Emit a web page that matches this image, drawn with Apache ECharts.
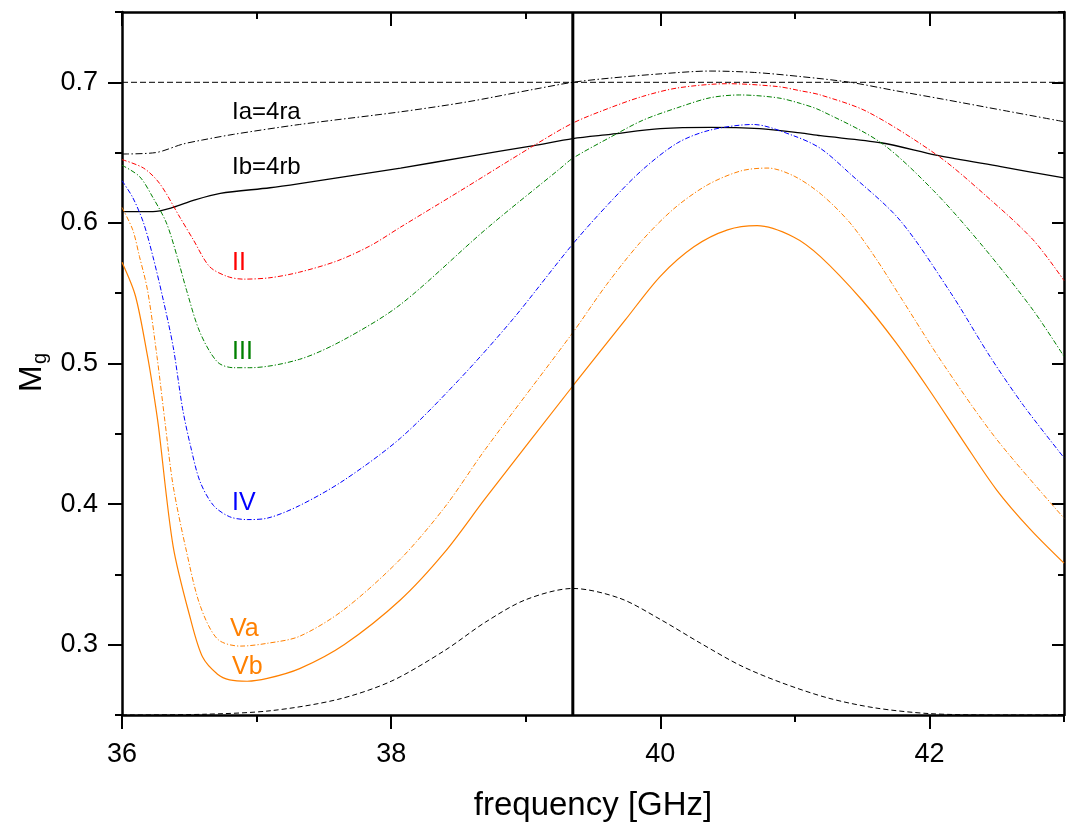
<!DOCTYPE html>
<html>
<head>
<meta charset="utf-8">
<script src="https://cdn.jsdelivr.net/npm/echarts@6/dist/echarts.min.js"></script>
<style>
html,body{margin:0;padding:0;background:#fff;}
#chart{width:1067px;height:827px;}
</style>
</head>
<body>
<div id="chart"></div>
<script>
// ---- data (frequency in GHz, M_g) ----
const freqIa = [36.0, 36.25, 36.45, 36.6, 36.83, 37.32, 38.07, 38.56, 39.06, 39.35, 39.63, 40.0, 40.37, 40.7, 41.05, 41.41, 41.75, 42.1, 42.55, 43.0];
const mIa    = [0.649, 0.650, 0.656, 0.659, 0.663, 0.670, 0.679, 0.686, 0.695, 0.700, 0.703, 0.706, 0.708, 0.707, 0.704, 0.700, 0.694, 0.688, 0.680, 0.672];

const freqIb = [36.0, 36.23, 36.38, 36.53, 36.73, 37.1, 37.32, 38.07, 38.56, 39.06, 39.35, 39.63, 40.0, 40.37, 40.74, 41.04, 41.19, 41.64, 42.06, 42.53, 43.0];
const mIb    = [0.608, 0.608, 0.611, 0.616, 0.621, 0.625, 0.628, 0.639, 0.647, 0.655, 0.660, 0.663, 0.667, 0.668, 0.667, 0.664, 0.662, 0.657, 0.648, 0.640, 0.632];

const freqII = [36.0, 36.16, 36.28, 36.43, 36.53, 36.65, 36.78, 36.9, 37.1, 37.32, 37.6, 37.85, 38.07, 38.5, 39.06, 39.35, 39.63, 39.87, 40.13, 40.5, 40.87, 41.04, 41.19, 41.54, 42.06, 42.4, 42.77, 43.0];
const mII    = [0.645, 0.639, 0.628, 0.604, 0.588, 0.569, 0.562, 0.560, 0.561, 0.565, 0.573, 0.584, 0.597, 0.622, 0.655, 0.671, 0.682, 0.690, 0.696, 0.699, 0.697, 0.694, 0.691, 0.679, 0.648, 0.621, 0.588, 0.559];

const freqIII = [36.0, 36.13, 36.23, 36.33, 36.41, 36.48, 36.58, 36.71, 36.83, 36.95, 37.32, 37.65, 38.07, 38.71, 39.26, 39.35, 39.63, 39.87, 40.13, 40.37, 40.59, 40.87, 41.04, 41.19, 41.64, 42.03, 42.4, 42.77, 43.0];
const mIII    = [0.641, 0.633, 0.618, 0.600, 0.576, 0.552, 0.522, 0.501, 0.497, 0.497, 0.503, 0.517, 0.542, 0.596, 0.639, 0.646, 0.661, 0.673, 0.682, 0.689, 0.691, 0.689, 0.685, 0.680, 0.657, 0.623, 0.583, 0.538, 0.505];

const freqIV = [36.0, 36.08, 36.16, 36.23, 36.30, 36.38, 36.45, 36.51, 36.58, 36.68, 36.80, 36.93, 37.08, 37.32, 37.65, 38.07, 38.5, 38.9, 39.35, 39.63, 39.87, 40.13, 40.37, 40.69, 40.99, 41.19, 41.41, 41.78, 42.16, 42.45, 42.7, 43.0];
const mIV    = [0.630, 0.618, 0.600, 0.576, 0.548, 0.512, 0.468, 0.441, 0.416, 0.399, 0.391, 0.389, 0.390, 0.399, 0.417, 0.447, 0.488, 0.531, 0.585, 0.615, 0.638, 0.657, 0.666, 0.670, 0.662, 0.653, 0.635, 0.602, 0.550, 0.505, 0.470, 0.433];

const freqVa = [36.0, 36.08, 36.13, 36.19, 36.26, 36.32, 36.38, 36.48, 36.58, 36.71, 36.88, 37.08, 37.32, 37.65, 38.07, 38.4, 38.7, 39.35, 39.6, 39.85, 40.1, 40.35, 40.6, 40.8, 41.0, 41.2, 41.41, 41.6, 41.8, 42.1, 42.5, 43.0];
const mVa    = [0.611, 0.595, 0.576, 0.552, 0.505, 0.458, 0.413, 0.366, 0.328, 0.304, 0.299, 0.301, 0.306, 0.325, 0.361, 0.398, 0.439, 0.522, 0.556, 0.586, 0.610, 0.627, 0.637, 0.639, 0.633, 0.620, 0.600, 0.575, 0.545, 0.500, 0.446, 0.390];

const freqVb = [36.0, 36.10, 36.19, 36.23, 36.27, 36.38, 36.51, 36.60, 36.71, 36.80, 36.93, 37.08, 37.32, 37.65, 38.07, 38.4, 38.7, 39.35, 39.74, 40.0, 40.25, 40.5, 40.72, 40.99, 41.19, 41.5, 41.75, 42.0, 42.25, 42.5, 42.75, 43.0];
const mVb    = [0.572, 0.548, 0.505, 0.482, 0.456, 0.370, 0.318, 0.291, 0.279, 0.275, 0.274, 0.276, 0.283, 0.300, 0.332, 0.366, 0.404, 0.484, 0.531, 0.562, 0.583, 0.595, 0.598, 0.590, 0.576, 0.545, 0.515, 0.481, 0.445, 0.410, 0.382, 0.358];

const freqPeak = [36.0, 36.6, 37.1, 37.6, 38.0, 38.4, 38.7, 39.0, 39.35, 39.7, 40.0, 40.3, 40.6, 40.9, 41.25, 41.6, 42.0, 42.5, 43.0];
const mPeak    = [0.250, 0.2505, 0.253, 0.261, 0.274, 0.296, 0.316, 0.332, 0.340, 0.333, 0.318, 0.301, 0.285, 0.273, 0.262, 0.255, 0.251, 0.250, 0.250];

const refLevel = 0.7;       // horizontal dashed reference
const markerFreq = 39.35;   // vertical marker line

const xMajor = [36, 38, 40, 42];
const xMinor = [37, 39, 41, 43];
const yMajor = [0.3, 0.4, 0.5, 0.6, 0.7];
const yMinor = [0.25, 0.35, 0.45, 0.55, 0.65, 0.75];
const X_MIN = 36, X_MAX = 43, Y_MIN = 0.25, Y_MAX = 0.75;

// ---- build ----
const zip = (a, b) => a.map((v, i) => [v, b[i]]);
const FONT = "'Liberation Sans', Arial, Helvetica, sans-serif";
const DASHDOT = [5, 2, 1.2, 2];

function curve(name, fx, my, color, type, width) {
  return {
    name, type: 'line', data: zip(fx, my), showSymbol: false, symbol: 'none',
    smooth: 0.3, animation: false,
    lineStyle: { color, width: width || 1, type }
  };
}

const axisLineStyle = { show: true, lineStyle: { color: '#000', width: 2.5 } };
function xAx(pos, values, len, inside, main) {
  return {
    type: 'value', min: X_MIN, max: X_MAX, position: pos, gridIndex: 0,
    axisLine: main ? axisLineStyle : { show: false },
    axisTick: { show: true, customValues: values, length: len, inside, lineStyle: { color: '#000', width: 2 } },
    axisLabel: main && pos === 'bottom'
      ? { show: true, customValues: xMajor, fontSize: 27, color: '#000', fontFamily: FONT, margin: 26 }
      : { show: false },
    splitLine: { show: false },
    name: main && pos === 'bottom' ? 'frequency [GHz]' : '',
    nameLocation: 'middle', nameGap: 74,
    nameTextStyle: { fontSize: 33, color: '#000', fontFamily: FONT }
  };
}
function yAx(pos, values, len, inside, main) {
  return {
    type: 'value', min: Y_MIN, max: Y_MAX, position: pos, gridIndex: 0,
    axisLine: main ? axisLineStyle : { show: false },
    axisTick: { show: true, customValues: values, length: len, inside, lineStyle: { color: '#000', width: 2 } },
    axisLabel: main && pos === 'left'
      ? { show: true, customValues: yMajor, fontSize: 27, color: '#000', fontFamily: FONT, margin: 24,
          formatter: v => Number(v).toFixed(1) }
      : { show: false },
    splitLine: { show: false }
  };
}

const chart = echarts.init(document.getElementById('chart'), null, { renderer: 'canvas' });
chart.setOption({
  backgroundColor: '#fff',
  animation: false,
  grid: { left: 122, right: 3, top: 12, bottom: 112, containLabel: false },
  xAxis: [
    xAx('bottom', xMajor, 14, false, true),
    xAx('bottom', xMinor, 7, false, false),
    xAx('top', xMajor, 14, true, true),
    xAx('top', xMinor, 7, true, false)
  ],
  yAxis: [
    yAx('left', yMajor, 14, false, true),
    yAx('left', yMinor, 7, false, false),
    yAx('right', yMajor, 12, true, true),
    yAx('right', yMinor, 6, true, false)
  ],
  series: [
    {
      name: 'ref', type: 'line', data: [[X_MIN, refLevel], [X_MAX, refLevel]], symbol: 'none',
      lineStyle: { color: '#000', width: 1, type: [6, 3] }, animation: false
    },
    curve('peak', freqPeak, mPeak, '#000', [5, 3], 1),
    curve('Ia=4ra', freqIa, mIa, '#000', [7, 2.5, 1.5, 2.5], 1),
    curve('Ib=4rb', freqIb, mIb, '#000', 'solid', 1.3),
    curve('II', freqII, mII, '#ff0000', DASHDOT, 1),
    curve('III', freqIII, mIII, '#008000', DASHDOT, 1),
    curve('IV', freqIV, mIV, '#0000ff', DASHDOT, 1),
    curve('Va', freqVa, mVa, '#ff8000', DASHDOT, 1),
    curve('Vb', freqVb, mVb, '#ff8000', 'solid', 1.2),
    {
      name: 'marker', type: 'line', data: [[markerFreq, Y_MIN], [markerFreq, Y_MAX]], symbol: 'none',
      lineStyle: { color: '#000', width: 3 }, animation: false
    }
  ],
  graphic: [
    { type: 'text', left: 232, top: 100, style: { text: 'Ia=4ra', fill: '#000', font: "24px " + FONT } },
    { type: 'text', left: 232, top: 155, style: { text: 'Ib=4rb', fill: '#000', font: "24px " + FONT } },
    { type: 'text', left: 232, top: 251, style: { text: 'II', fill: '#ff0000', font: "25px " + FONT } },
    { type: 'text', left: 232, top: 340, style: { text: 'III', fill: '#008000', font: "25px " + FONT } },
    { type: 'text', left: 232, top: 491, style: { text: 'IV', fill: '#0000ff', font: "25px " + FONT } },
    { type: 'text', left: 230, top: 617, style: { text: 'Va', fill: '#ff8000', font: "25px " + FONT } },
    { type: 'text', left: 232, top: 655, style: { text: 'Vb', fill: '#ff8000', font: "25px " + FONT } },
    {
      type: 'group', x: 16, y: 392, rotation: Math.PI / 2,
      children: [
        { type: 'text', x: 0, y: 0, style: { text: 'M', fill: '#000', font: "32px " + FONT } },
        { type: 'text', x: 28, y: 14, style: { text: 'g', fill: '#000', font: "20px " + FONT } }
      ]
    }
  ]
});
</script>
</body>
</html>
